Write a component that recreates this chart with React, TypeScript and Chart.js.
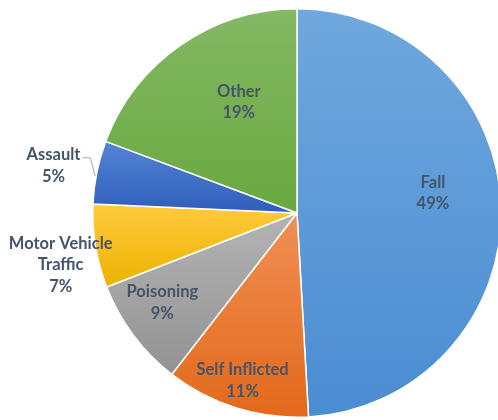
import React, { useEffect, useRef } from "react";
import { Chart, registerables } from "chart.js";

Chart.register(...registerables);

const categories = ["Fall", "Self Inflicted", "Poisoning", "Motor Vehicle Traffic", "Assault", "Other"];
const values = [49.1, 11.4, 8.6, 6.6, 5.0, 19.3];
const labelLines = [["Fall"], ["Self Inflicted"], ["Poisoning"], ["Motor Vehicle", "Traffic"], ["Assault"], ["Other"]];

const topColors = ["#70a8de", "#f08f55", "#b4b4b4", "#ffca3c", "#5585d4", "#84b964"];
const bottomColors = ["#4a8cd2", "#e3691a", "#929292", "#ebb300", "#2e5eba", "#69a83f"];

// label placement: radius fraction and angle tweak (deg)
const labelRadius = [0.67, 0.86, 0.79, 1.18, 1.21, 0.61];
const labelAngleTweak = [-6.6, 0.7, 3, -3, -0.5, 7];

function geometry(chart: any) {
  const a = chart.chartArea;
  const cx = (a.left + a.right) / 2;
  const cy = (a.top + a.bottom) / 2;
  const r = Math.min(a.right - a.left, a.bottom - a.top) / 2;
  const total = values.reduce((s, v) => s + v, 0);
  const angles: [number, number][] = [];
  let acc = -Math.PI / 2;
  for (const v of values) {
    const s = acc;
    acc += (v / total) * Math.PI * 2;
    angles.push([s, acc]);
  }
  return { cx, cy, r, total, angles };
}

const labelPlugin = {
  id: "pieLabels",
  afterDatasetsDraw(chart: any) {
    const ctx = chart.ctx;
    const { cx, cy, r, total, angles } = geometry(chart);
    ctx.save();
    ctx.font = "bold 16.5px Lato, 'Open Sans', sans-serif";
    ctx.fillStyle = "#44546a";
    ctx.textAlign = "center";
    ctx.textBaseline = "middle";
    const lh = 21.5;
    values.forEach((v, i) => {
      const [s, e] = angles[i];
      const mid = (s + e) / 2 + (labelAngleTweak[i] * Math.PI) / 180;
      const lx = cx + Math.cos(mid) * r * labelRadius[i];
      const ly = cy + Math.sin(mid) * r * labelRadius[i];
      const pct = Math.round((v / total) * 100) + "%";
      const lines = [...labelLines[i], pct];
      const y0 = ly - ((lines.length - 1) * lh) / 2;
      lines.forEach((t, k) => ctx.fillText(t, lx, y0 + k * lh));
      if (categories[i] === "Assault") {
        const w = ctx.measureText(labelLines[i][0]).width;
        const amid = (s + e) / 2;
        const px = cx + Math.cos(amid) * r;
        const py = cy + Math.sin(amid) * r;
        const sx = lx + w / 2 + 2;
        const sy = y0 + 3;
        ctx.strokeStyle = "#a6a6a6";
        ctx.lineWidth = 1;
        ctx.beginPath();
        ctx.moveTo(sx, sy);
        ctx.lineTo(sx + 8, sy);
        ctx.lineTo(px - 1, py + 4);
        ctx.stroke();
      }
    });
    ctx.restore();
  },
};

function sliceGradient(c: any) {
  const chart = c.chart;
  const i = c.dataIndex;
  if (!chart.chartArea || i === undefined) return topColors[i ?? 0];
  const { cx, cy, r, angles } = geometry(chart);
  const [s, e] = angles[i];
  const ys = [cy, cy + Math.sin(s) * r, cy + Math.sin(e) * r];
  const has = (a: number) => {
    for (let k = -2; k <= 2; k++) {
      const t = a + k * 2 * Math.PI;
      if (t >= s && t <= e) return true;
    }
    return false;
  };
  if (has(Math.PI / 2)) ys.push(cy + r);
  if (has(-Math.PI / 2)) ys.push(cy - r);
  const y1 = Math.min(...ys);
  const y2 = Math.max(...ys);
  const g = chart.ctx.createLinearGradient(0, y1, 0, y2);
  g.addColorStop(0, topColors[i]);
  g.addColorStop(1, bottomColors[i]);
  return g;
}

export default function App() {
  const ref = useRef<HTMLCanvasElement>(null);
  useEffect(() => {
    const chart = new Chart(ref.current!, {
      type: "pie",
      data: {
        labels: categories,
        datasets: [
          {
            data: values,
            backgroundColor: sliceGradient as any,
            borderColor: "#ffffff",
            borderWidth: 1.5,
          },
        ],
      },
      options: {
        responsive: false,
        animation: false,
        devicePixelRatio: 1,
        layout: { padding: { top: 8, bottom: 2, left: 0, right: 0 } },
        plugins: { legend: { display: false }, tooltip: { enabled: false } },
      },
      plugins: [labelPlugin],
    });
    return () => chart.destroy();
  }, []);
  return (
    <div style={{ position: "absolute", left: 0, top: 0, width: 498, height: 420, overflow: "hidden", background: "#fff" }}>
      <canvas ref={ref} width={594} height={420} style={{ width: 594, height: 420, display: "block" }} />
    </div>
  );
}
